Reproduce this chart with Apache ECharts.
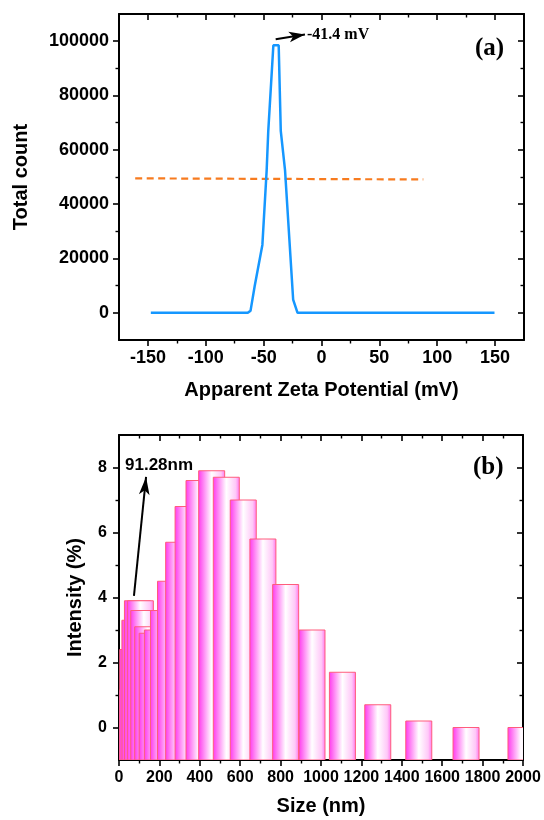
<!DOCTYPE html>
<html>
<head>
<meta charset="utf-8">
<script src="https://cdn.jsdelivr.net/npm/echarts@6/dist/echarts.min.js"></script>
<style>
  html, body { margin: 0; padding: 0; background: #fff; }
  #chart { width: 544px; height: 820px; }
</style>
</head>
<body>
<div id="chart"></div>
<script>
// (a) zeta potential distribution
const zetaPotential = [-147.5, -63.7, -61.3, -57.8, -51.1, -47.4, -46.0, -41.6, -37.0, -35.2, -31.5, -24.5, -20.7, 149.5];
const totalCount    = [0, 0, 800, 9700, 25000, 52400, 67000, 98500, 98500, 67000, 52400, 4900, 0, 0];
const refLineX = [-161, 88];
const refLineY = [49500, 49100];
const peakLabel = '-41.4 mV';

// (b) size distribution by intensity
const sizeNm    = [58.77, 68.06, 78.82, 91.28, 105.7, 122.4, 141.8, 164.2, 190.1, 220.2, 255.0, 295.3, 342.0, 396.1, 458.7, 531.2, 615.1, 712.4, 825.0, 955.4, 1106, 1281, 1484, 1718, 1990];
const intensity = [1.15, 2.4, 3.3, 3.9, 3.9, 3.6, 3.1, 2.9, 3.0, 3.6, 4.5, 5.7, 6.8, 7.6, 7.9, 7.7, 7.0, 5.8, 4.4, 3.0, 1.7, 0.7, 0.2, 0.0, 0.0];
const sizeLabel = '91.28nm';

// axis ranges and ticks
const zetaRange  = [-175, 175];
const zetaTicks  = [-150, -100, -50, 0, 50, 100, 150];
const zetaMinor  = [-125, -75, -25, 25, 75, 125];
const countRange = [-10000, 110000];
const countTicks = [0, 20000, 40000, 60000, 80000, 100000];
const countMinor = [10000, 30000, 50000, 70000, 90000];
const sizeRange  = [0, 2000];
const sizeTicks  = [0, 200, 400, 600, 800, 1000, 1200, 1400, 1600, 1800, 2000];
const sizeMinor  = [100, 300, 500, 700, 900, 1100, 1300, 1500, 1700, 1900];
const intRange   = [-1, 9];
const intTicks   = [0, 2, 4, 6, 8];
const intMinor   = [1, 3, 5, 7];

const SANS = '"Liberation Sans", Arial, sans-serif';
const SERIF = '"Liberation Serif", "Times New Roman", serif';

const xAxes = [];
const yAxes = [];

// Each side gets a major axis (line, long ticks, optional labels) and an overlaid minor-tick axis.
function addAxes(list, grid, pos, range, majors, minors, label, name) {
  const inside = pos === 'top' || pos === 'right';
  const base = {
    type: 'value', gridIndex: grid, position: pos,
    min: range[0], max: range[1],
    splitLine: { show: false }
  };
  const major = Object.assign({}, base, {
    axisLine: { show: true, onZero: false, lineStyle: { color: '#000', width: 2 } },
    axisTick: { show: true, inside: inside, length: 6, lineStyle: { color: '#000', width: 1.6 }, customValues: majors },
    axisLabel: label ? {
      show: true, customValues: majors, color: '#000', fontFamily: SANS, fontWeight: 'bold',
      fontSize: label.size, margin: label.margin, formatter: v => String(v)
    } : { show: false }
  });
  if (name) {
    Object.assign(major, {
      name: name.text, nameLocation: 'middle', nameGap: name.gap,
      nameTextStyle: { color: '#000', fontFamily: SANS, fontWeight: 'bold', fontSize: 20 }
    });
  }
  list.push(major);
  const idx = list.length - 1;
  list.push(Object.assign({}, base, {
    axisLine: { show: false, onZero: false },
    axisTick: { show: true, inside: inside, length: 3.5, lineStyle: { color: '#000', width: 1.4 }, customValues: minors },
    axisLabel: { show: false }
  }));
  return idx;
}

// grid 0: zeta potential
const xA = addAxes(xAxes, 0, 'bottom', zetaRange, zetaTicks, zetaMinor, { size: 18, margin: 9 }, { text: 'Apparent Zeta Potential (mV)', gap: 40 });
addAxes(xAxes, 0, 'top', zetaRange, zetaTicks, zetaMinor, null, null);
const yA = addAxes(yAxes, 0, 'left', countRange, countTicks, countMinor, { size: 18, margin: 10 }, { text: 'Total count', gap: 88 });
addAxes(yAxes, 0, 'right', countRange, countTicks, countMinor, null, null);

// grid 1: size distribution
const xB = addAxes(xAxes, 1, 'bottom', sizeRange, sizeTicks, sizeMinor, { size: 16, margin: 10 }, { text: 'Size (nm)', gap: 36 });
addAxes(xAxes, 1, 'top', sizeRange, sizeTicks, sizeMinor, null, null);
const yB = addAxes(yAxes, 1, 'left', intRange, intTicks, intMinor, { size: 16, margin: 12 }, { text: 'Intensity (%)', gap: 34 });
addAxes(yAxes, 1, 'right', intRange, intTicks, intMinor, null, null);

const BAR_PX = 26;
const barFill = new echarts.graphic.LinearGradient(0, 0, 1, 0, [
  { offset: 0, color: '#ff36ee' },
  { offset: 0.5, color: '#ffffff' },
  { offset: 0.85, color: '#ffc8f8' },
  { offset: 1, color: '#ff72ee' }
]);

const arrowLine = (from, to, size) => ({
  silent: true,
  symbol: ['none', 'arrow'],
  symbolSize: size,
  label: { show: false },
  lineStyle: { color: '#000', width: 2, type: 'solid' },
  emphasis: { disabled: true },
  animation: false,
  data: [[{ coord: from }, { coord: to }]]
});

const chart = echarts.init(document.getElementById('chart'), null, { renderer: 'canvas' });
chart.setOption({
  animation: false,
  backgroundColor: '#fff',
  grid: [
    { left: 119, right: 20, top: 14, height: 326 },
    { left: 119, right: 21, top: 435, height: 325 }
  ],
  xAxis: xAxes,
  yAxis: yAxes,
  series: [
    {
      type: 'line', xAxisIndex: xA, yAxisIndex: yA,
      data: refLineX.map((x, i) => [x, refLineY[i]]),
      symbol: 'none', silent: true,
      lineStyle: { color: '#f77b1f', width: 2.2, type: [7, 4.5] }
    },
    {
      type: 'line', xAxisIndex: xA, yAxisIndex: yA,
      data: zetaPotential.map((x, i) => [x, totalCount[i]]),
      symbol: 'none', silent: true,
      lineStyle: { color: '#1597ff', width: 2.5 }
    },
    {
      type: 'line', xAxisIndex: xA, yAxisIndex: yA, data: [],
      markLine: arrowLine([-39.6, 100700], [-14.3, 102450], [8, 16])
    },
    {
      type: 'custom', xAxisIndex: xB, yAxisIndex: yB, clip: true, silent: true,
      data: sizeNm.map((s, i) => [s, intensity[i]]),
      renderItem: function (params, api) {
        const top = api.coord([api.value(0), api.value(1)]);
        const base = api.coord([api.value(0), intRange[0]]);
        return {
          type: 'rect',
          shape: { x: top[0] - BAR_PX / 2, y: top[1], width: BAR_PX, height: base[1] - top[1] },
          style: { fill: barFill, stroke: '#ff5c7c', lineWidth: 1 }
        };
      }
    },
    {
      type: 'line', xAxisIndex: xB, yAxisIndex: yB, data: [],
      markLine: arrowLine([74, 4.05], [134, 7.71], [8, 18])
    }
  ],
  graphic: [
    { type: 'text', x: 307, y: 35, silent: true,
      style: { text: peakLabel, fill: '#000', font: 'bold 16px ' + SERIF, verticalAlign: 'middle' } },
    { type: 'text', x: 475, y: 49, silent: true,
      style: { text: '(a)', fill: '#000', font: 'bold 25px ' + SERIF, verticalAlign: 'middle' } },
    { type: 'text', x: 473, y: 468, silent: true,
      style: { text: '(b)', fill: '#000', font: 'bold 25px ' + SERIF, verticalAlign: 'middle' } },
    { type: 'text', x: 125, y: 465, silent: true,
      style: { text: sizeLabel, fill: '#000', font: 'bold 17px ' + SANS, verticalAlign: 'middle' } }
  ]
});
</script>
</body>
</html>
